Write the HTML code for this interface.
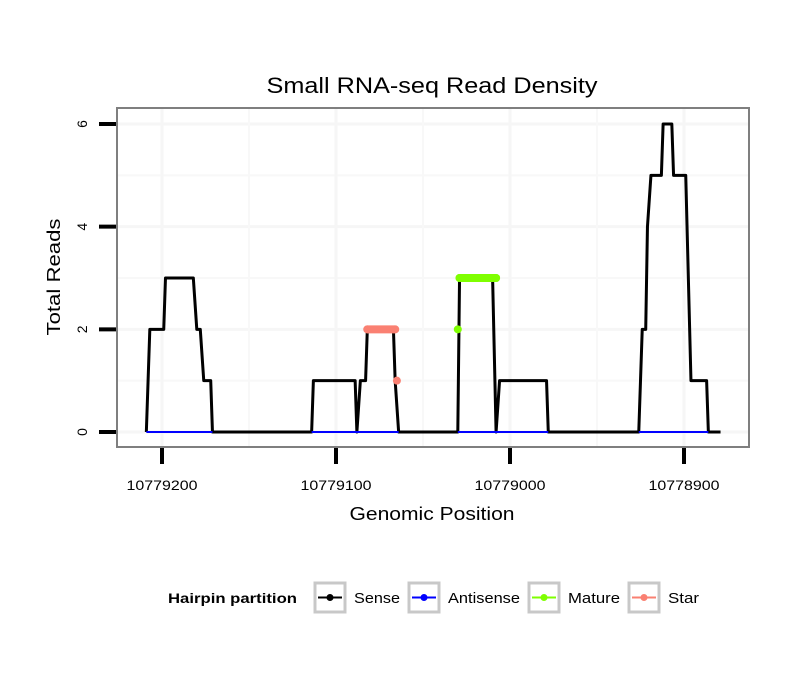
<!DOCTYPE html>
<html><head><meta charset="utf-8"><style>
body{margin:0;background:#fff;font-family:"Liberation Sans",sans-serif}
svg text{font-family:"Liberation Sans",sans-serif}
</style></head><body>
<svg id="c" width="810" height="690" xmlns="http://www.w3.org/2000/svg">
<defs><clipPath id="pc"><rect x="117" y="108" width="632" height="339"/></clipPath></defs>
<rect width="810" height="690" fill="#fff"/>
<g id="grid" clip-path="url(#pc)"></g>
<g id="series"></g>
<rect x="117" y="108" width="632" height="339" fill="none" stroke="#7f7f7f" stroke-width="2"/>
<g id="axes"></g>
<text x="432" y="93" font-size="22" text-anchor="middle" textLength="331" lengthAdjust="spacingAndGlyphs">Small RNA-seq Read Density</text>
<text x="432" y="520" font-size="18" text-anchor="middle" textLength="165" lengthAdjust="spacingAndGlyphs">Genomic Position</text>
<text transform="translate(60,277) rotate(-90)" font-size="18" text-anchor="middle" textLength="117" lengthAdjust="spacingAndGlyphs">Total Reads</text>
<g>
<text x="168" y="603" font-size="14" font-weight="bold" textLength="129" lengthAdjust="spacingAndGlyphs">Hairpin partition</text>
<g><rect x="315" y="583" width="30" height="29" fill="#fff" stroke="#c8c8c8" stroke-width="3"/><line x1="318" x2="342" y1="597.5" y2="597.5" stroke="#000" stroke-width="2"/><circle cx="330" cy="597.5" r="3.5" fill="#000"/><text x="354" y="603" font-size="15" textLength="46" lengthAdjust="spacingAndGlyphs">Sense</text></g>
<g><rect x="409" y="583" width="30" height="29" fill="#fff" stroke="#c8c8c8" stroke-width="3"/><line x1="412" x2="436" y1="597.5" y2="597.5" stroke="#0000ff" stroke-width="2"/><circle cx="424" cy="597.5" r="3.5" fill="#0000ff"/><text x="448" y="603" font-size="15" textLength="72" lengthAdjust="spacingAndGlyphs">Antisense</text></g>
<g><rect x="529" y="583" width="30" height="29" fill="#fff" stroke="#c8c8c8" stroke-width="3"/><line x1="532" x2="556" y1="597.5" y2="597.5" stroke="#7fff00" stroke-width="2"/><circle cx="544" cy="597.5" r="3.5" fill="#7fff00"/><text x="568" y="603" font-size="15" textLength="52" lengthAdjust="spacingAndGlyphs">Mature</text></g>
<g><rect x="629" y="583" width="30" height="29" fill="#fff" stroke="#c8c8c8" stroke-width="3"/><line x1="632" x2="656" y1="597.5" y2="597.5" stroke="#fa8072" stroke-width="2"/><circle cx="644" cy="597.5" r="3.5" fill="#fa8072"/><text x="668" y="603" font-size="15" textLength="31" lengthAdjust="spacingAndGlyphs">Star</text></g>
</g>
</svg>
<script>
const senseX=[10779209,10779207,10779199,10779198,10779182,10779180,10779178,10779176,10779172,10779171,10779114,10779113,10779089,10779088,10779086,10779083,10779082,10779067,10779066,10779064,10779030,10779029,10779010,10779008,10779006,10778979,10778978,10778926,10778925,10778924,10778922,10778921,10778919,10778913,10778912,10778907,10778906,10778899,10778896,10778887,10778886,10778879];
const senseY=[0,2,2,3,3,2,2,1,1,0,0,1,1,0,1,1,2,2,1,0,0,3,3,0,1,1,0,0,1,2,2,4,5,5,6,6,5,5,1,1,0,0];
const antiStart=[10779209,10779114,10779030,10778926];
const antiEnd=[10779171,10779064,10778978,10778886];
const matureX=[10779030,10779029,10779008];
const matureY=[2,3,3];
const starX=[10779082,10779066,10779065];
const starY=[2,2,1];
const xTicks=[10779200,10779100,10779000,10778900];
const yTicks=[0,2,4,6];
const NS="http://www.w3.org/2000/svg";
function sx(v){return 162+(10779200-v)*1.74;}
function sy(v){return 432-v*51.33;}
function mk(tag,attrs,parent){const e=document.createElementNS(NS,tag);for(const k in attrs)e.setAttribute(k,attrs[k]);document.getElementById(parent).appendChild(e);return e;}
for(let v=1;v<=5;v+=2){const l=mk('line',{x1:117,x2:749,y1:sy(v),y2:sy(v),stroke:'#f8f8f8','stroke-width':2},'grid');

}
yTicks.forEach(v=>{const l=mk('line',{x1:117,x2:749,y1:sy(v),y2:sy(v),stroke:'#f6f6f6','stroke-width':3},'grid');

});
xTicks.forEach(v=>{const l=mk('line',{x1:sx(v),x2:sx(v),y1:108,y2:447,stroke:'#f6f6f6','stroke-width':3},'grid');


const m=mk('line',{x1:sx(v-50),x2:sx(v-50),y1:108,y2:447,stroke:'#f8f8f8','stroke-width':2},'grid');

});
const sp=mk('polyline',{points:senseX.map((x,i)=>sx(x)+','+sy(senseY[i])).join(' '),fill:'none',stroke:'#000','stroke-width':3,'stroke-linejoin':'round'},'series');


antiStart.forEach((s,i)=>{const l=mk('line',{x1:sx(s),x2:sx(antiEnd[i]),y1:sy(0),y2:sy(0),stroke:'#0000ff','stroke-width':2},'series');

});
function dots(xs,ys,col,name){
 for(let i=0;i<xs.length;i++){
  if(i>0&&ys[i]===ys[i-1]){const l=mk('line',{x1:sx(xs[i-1]),x2:sx(xs[i]),y1:sy(ys[i]),y2:sy(ys[i]),stroke:col,'stroke-width':8,'stroke-linecap':'round'},'series');
  
  }
  const c=mk('circle',{cx:sx(xs[i]),cy:sy(ys[i]),r:4,fill:col},'series');
  
  
 }
}
dots(matureX,matureY,'#7fff00','mature');
dots(starX,starY,'#fa8072','star');
yTicks.forEach(v=>{const t=mk('line',{x1:99,x2:116,y1:sy(v),y2:sy(v),stroke:'#000','stroke-width':4},'axes');


const tx=mk('text',{transform:`translate(87,${sy(v)}) rotate(-90)`,'font-size':14,'text-anchor':'middle'},'axes');tx.textContent=v;

});
xTicks.forEach(v=>{const t=mk('line',{x1:sx(v),x2:sx(v),y1:448,y2:464,stroke:'#000','stroke-width':4},'axes');


const tx=mk('text',{x:sx(v),y:490,'font-size':14,'text-anchor':'middle',textLength:71,lengthAdjust:'spacingAndGlyphs'},'axes');tx.textContent=v;

});
</script>
</body></html>
